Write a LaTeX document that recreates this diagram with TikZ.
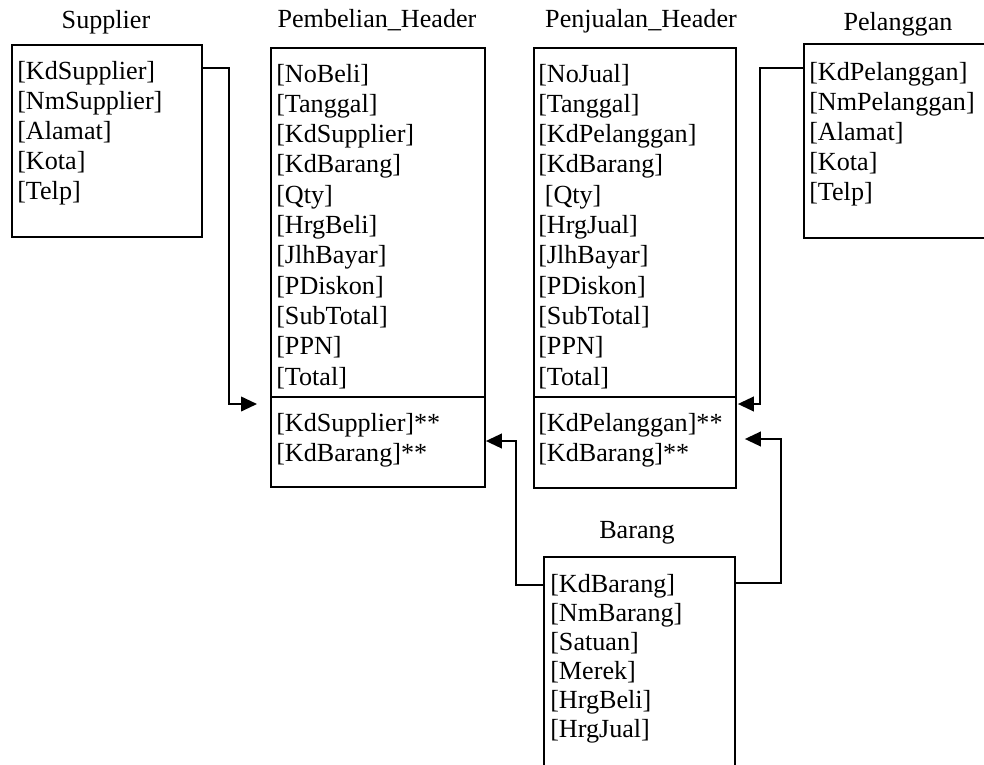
\documentclass[tikz,border=0pt]{standalone}
\usepackage{fontspec}
\setmainfont{Liberation Serif}
\usetikzlibrary{arrows.meta}
\begin{document}
\begin{tikzpicture}[x=0.75pt,y=-0.75pt,
  box/.style={draw,line width=1.4pt,inner sep=0pt,anchor=north west},
  field/.style={anchor=base west,inner sep=0pt,font=\fontsize{19.6pt}{22pt}\selectfont},
  title/.style={anchor=base,inner sep=0pt,font=\fontsize{19.6pt}{22pt}\selectfont},
  conn/.style={line width=1.4pt,-{Triangle[length=12pt,width=11pt]}}]
\useasboundingbox (0,0) rectangle (984,764);
% boxes
\node[box,minimum width=142.5pt,minimum height=144pt] (sup) at (11,44) {};
\node[box,minimum width=160.5pt,minimum height=261.75pt] (pb1) at (270,47) {};
\node[box,minimum width=160.5pt,minimum height=67.5pt] (pb2) at (270,396) {};
\node[box,minimum width=151.5pt,minimum height=261.75pt] (pj1) at (533,47) {};
\node[box,minimum width=151.5pt,minimum height=68.25pt] (pj2) at (533,396) {};
\node[box,minimum width=142.5pt,minimum height=145.5pt] (pel) at (803,43) {};
\node[box,minimum width=143.25pt,minimum height=168pt] (bar) at (543,556) {};
% titles
\node[title] (tsup) at (106,28) {Supplier};
\node[title] (tpb) at (377,27) {Pembelian\_Header};
\node[title] (tpj) at (641,27) {Penjualan\_Header};
\node[title] (tpel) at (898,30) {Pelanggan};
\node[title] (tbar) at (637,538) {Barang};
% fields
\foreach \t [count=\i] in {[KdSupplier],[NmSupplier],[Alamat],[Kota],[Telp]}
  \node[field] (s\i) at (17,{79+30*(\i-1)}) {\t};
\foreach \t [count=\i] in {[NoBeli],[Tanggal],[KdSupplier],[KdBarang],[Qty],[HrgBeli],[JlhBayar],[PDiskon],[SubTotal],[PPN],[Total]}
  \node[field] (b\i) at (276,{82+30.3*(\i-1)}) {\t};
\foreach \t [count=\i] in {[KdSupplier]**,[KdBarang]**}
  \node[field] (bk\i) at (276,{431+30*(\i-1)}) {\t};
\foreach \t [count=\i] in {[NoJual],[Tanggal],[KdPelanggan],[KdBarang],\ [Qty],[HrgJual],[JlhBayar],[PDiskon],[SubTotal],[PPN],[Total]}
  \node[field] (j\i) at (538,{82+30.3*(\i-1)}) {\t};
\foreach \t [count=\i] in {[KdPelanggan]**,[KdBarang]**}
  \node[field] (jk\i) at (538,{431+30*(\i-1)}) {\t};
\foreach \t [count=\i] in {[KdPelanggan],[NmPelanggan],[Alamat],[Kota],[Telp]}
  \node[field] (p\i) at (809,{80+30*(\i-1)}) {\t};
\foreach \t [count=\i] in {[KdBarang],[NmBarang],[Satuan],[Merek],[HrgBeli],[HrgJual]}
  \node[field] (g\i) at (550,{592+29*(\i-1)}) {\t};
% connectors
\draw[conn] ([shift={(0,24)}]sup.north east) -- ++(26,0) |- ([shift={(-13,8)}]pb2.north west);
\draw[conn] ([shift={(0,25)}]pel.north west) -- ++(-43,0) |- ([shift={(1,8)}]pj2.north east);
\draw[conn] ([shift={(0,29)}]bar.north west) -- ++(-27,0) |- ([shift={(0,45)}]pb2.north east);
\draw[conn] ([shift={(0,27)}]bar.north east) -- ++(45,0) |- ([shift={(8,43)}]pj2.north east);
\end{tikzpicture}
\end{document}
